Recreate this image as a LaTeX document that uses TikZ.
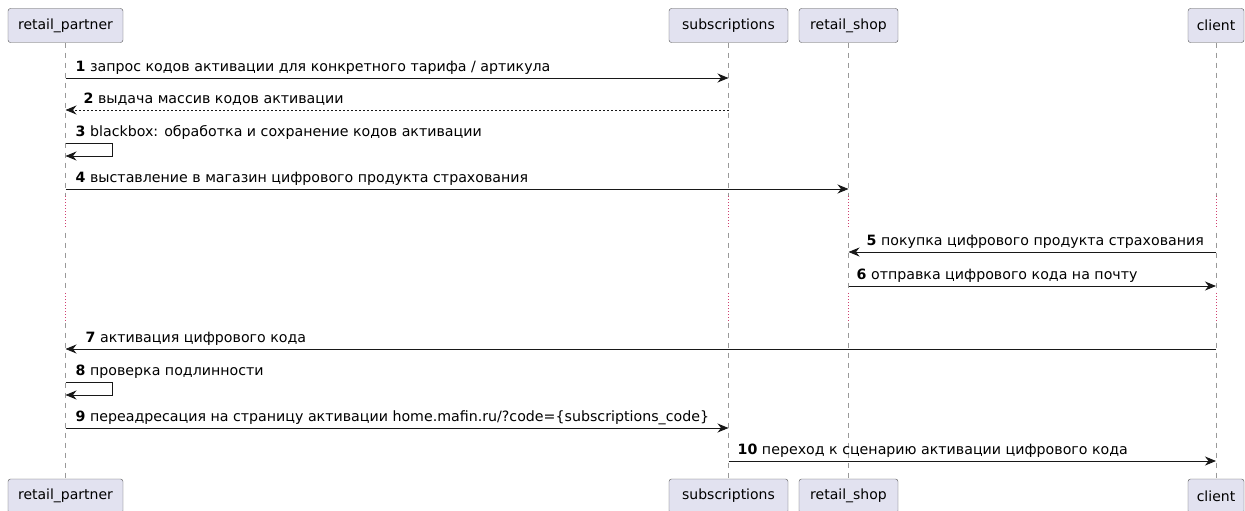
\documentclass[tikz,border=0pt]{standalone}
\usepackage{fontspec}
\setmainfont{DejaVu Sans}
\usetikzlibrary{arrows.meta}
\definecolor{boxfill}{HTML}{E2E2F0}
\definecolor{boxline}{HTML}{181818}
\definecolor{delayred}{HTML}{D04070}
\tikzset{
  actor/.style={draw=boxline!75, fill=boxfill, rounded corners=2.5pt, minimum height=34pt, inner sep=0pt, font=\fontsize{14}{16}\selectfont},
  life/.style={draw=gray!80, dash pattern=on 5pt off 5pt, line width=0.5pt},
  pause/.style={draw=delayred, dash pattern=on 1pt off 2pt, line width=0.6pt},
  msg/.style={draw=boxline, line width=0.9pt, -{Stealth[length=11pt,width=9pt,inset=3.5pt]}},
  reply/.style={msg, dash pattern=on 2pt off 2pt},
  lbl/.style={anchor=base west, inner sep=0pt, font=\fontsize{14.2}{16}\selectfont},
}
\begin{document}
\begin{tikzpicture}[x=1pt,y=-1pt]
  \useasboundingbox (0,0) rectangle (1245,511);

  % Participants - top row
  \node[actor, minimum width=115pt] (rp) at (65.5,25.5) {retail\_partner};
  \node[actor, minimum width=119pt] (sub) at (728.5,25.5) {subscriptions};
  \node[actor, minimum width=99pt] (shop) at (848.5,25.5) {retail\_shop};
  \node[actor, minimum width=56pt] (cl) at (1216,25.5) {client};

  % Participants - bottom row
  \node[actor, minimum width=115pt] (rpb) at (65.5,496) {retail\_partner};
  \node[actor, minimum width=119pt] (subb) at (728.5,496) {subscriptions};
  \node[actor, minimum width=99pt] (shopb) at (848.5,496) {retail\_shop};
  \node[actor, minimum width=56pt] (clb) at (1216,496) {client};

  % Lifelines
  \foreach \a/\b in {rp/rpb, sub/subb, shop/shopb, cl/clb}
    \draw[life] (\a.south) -- (\b.north);

  % Delays
  \coordinate (d1a) at (0,196);
  \coordinate (d1b) at (0,228);
  \coordinate (d2a) at (0,293);
  \coordinate (d2b) at (0,323);
  \foreach \a in {rp, sub, shop, cl} {
    \draw[white, line width=2pt] (\a |- d1a) -- (\a |- d1b);
    \draw[pause] (\a |- d1a) -- (\a |- d1b);
    \draw[white, line width=2pt] (\a |- d2a) -- (\a |- d2b);
    \draw[pause] (\a |- d2a) -- (\a |- d2b);
  }

  % Message rows
  \coordinate (m1) at (0,78);
  \coordinate (m2) at (0,110);
  \coordinate (m3) at (0,143);
  \coordinate (m4) at (0,189);
  \coordinate (m5) at (0,252);
  \coordinate (m6) at (0,286);
  \coordinate (m7) at (0,349);
  \coordinate (m8) at (0,382);
  \coordinate (m9) at (0,428);
  \coordinate (m10) at (0,461);

  % Messages
  \draw[msg] (rp |- m1) -- (sub |- m1);
  \node[lbl] (t1) at ([xshift=10pt,yshift=6.5pt]rp |- m1) {\textbf{1} запрос кодов активации для конкретного тарифа / артикула};

  \draw[reply] (sub |- m2) -- (rp |- m2);
  \node[lbl] (t2) at ([xshift=18pt,yshift=6.5pt]rp |- m2) {\textbf{2} выдача массив кодов активации};

  \draw[msg] (rp |- m3) -- ++(47,0) -- ++(0,13) -- ([yshift=-13pt]rp |- m3);
  \node[lbl] (t3) at ([xshift=10pt,yshift=6.5pt]rp |- m3) {\textbf{3} blackbox: обработка и сохранение кодов активации};

  \draw[msg] (rp |- m4) -- (shop |- m4);
  \node[lbl] (t4) at ([xshift=10pt,yshift=6.5pt]rp |- m4) {\textbf{4} выставление в магазин цифрового продукта страхования};

  \draw[msg] (cl |- m5) -- (shop |- m5);
  \node[lbl] (t5) at ([xshift=18pt,yshift=6.5pt]shop |- m5) {\textbf{5} покупка цифрового продукта страхования};

  \draw[msg] (shop |- m6) -- (cl |- m6);
  \node[lbl] (t6) at ([xshift=8pt,yshift=6.5pt]shop |- m6) {\textbf{6} отправка цифрового кода на почту};

  \draw[msg] (cl |- m7) -- (rp |- m7);
  \node[lbl] (t7) at ([xshift=20pt,yshift=6.5pt]rp |- m7) {\textbf{7} активация цифрового кода};

  \draw[msg] (rp |- m8) -- ++(47,0) -- ++(0,13) -- ([yshift=-13pt]rp |- m8);
  \node[lbl] (t8) at ([xshift=10pt,yshift=6.5pt]rp |- m8) {\textbf{8} проверка подлинности};

  \draw[msg] (rp |- m9) -- (sub |- m9);
  \node[lbl] (t9) at ([xshift=10pt,yshift=6.5pt]rp |- m9) {\textbf{9} переадресация на страницу активации home.mafin.ru/?code=\{subscriptions\_code\}};

  \draw[msg] (sub |- m10) -- (cl |- m10);
  \node[lbl] (t10) at ([xshift=9pt,yshift=6.5pt]sub |- m10) {\textbf{10} переход к сценарию активации цифрового кода};
\end{tikzpicture}
\end{document}
